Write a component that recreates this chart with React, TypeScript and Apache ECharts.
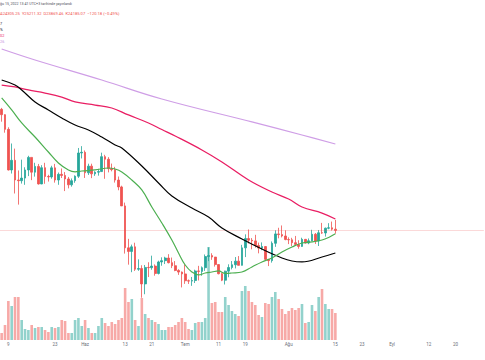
import React, { useEffect, useRef } from 'react';
import * as echarts from 'echarts';

const startDate = '2022-05-07';
const endDate = '2022-09-28';

// date, open, high, low, close
const candles: [string, number, number, number, number][] = [
  ['2022-05-07', 35991, 36130, 34785, 35468],
  ['2022-05-08', 35468, 35510, 33713, 34038],
  ['2022-05-09', 34038, 34243, 30033, 30076],
  ['2022-05-10', 30076, 32659, 29730, 31017],
  ['2022-05-11', 31017, 32162, 27785, 29103],
  ['2022-05-12', 29103, 30032, 26700, 29030],
  ['2022-05-13', 29030, 31083, 28751, 29287],
  ['2022-05-14', 29287, 30343, 28630, 30080],
  ['2022-05-15', 30080, 31460, 29480, 31305],
  ['2022-05-16', 31305, 31305, 29087, 29863],
  ['2022-05-17', 29863, 30780, 29430, 30425],
  ['2022-05-18', 30425, 30667, 28654, 28716],
  ['2022-05-19', 28716, 30545, 28693, 30297],
  ['2022-05-20', 30297, 30777, 28730, 29445],
  ['2022-05-21', 29445, 29610, 28947, 29400],
  ['2022-05-22', 29400, 30487, 29227, 30285],
  ['2022-05-23', 30285, 30670, 28843, 29099],
  ['2022-05-24', 29099, 29830, 28631, 29655],
  ['2022-05-25', 29655, 30223, 29294, 29542],
  ['2022-05-26', 29542, 29875, 28019, 29202],
  ['2022-05-27', 29202, 29400, 28282, 28630],
  ['2022-05-28', 28630, 29250, 28450, 29031],
  ['2022-05-29', 29031, 29550, 28830, 29468],
  ['2022-05-30', 29468, 32222, 29300, 31734],
  ['2022-05-31', 31734, 32400, 31200, 31802],
  ['2022-06-01', 31802, 31982, 29300, 29805],
  ['2022-06-02', 29805, 30690, 29594, 30452],
  ['2022-06-03', 30452, 30690, 29281, 29700],
  ['2022-06-04', 29700, 29950, 29500, 29865],
  ['2022-06-05', 29865, 30189, 29525, 29920],
  ['2022-06-06', 29920, 31765, 29880, 31373],
  ['2022-06-07', 31373, 31557, 29218, 31125],
  ['2022-06-08', 31125, 31330, 29843, 30204],
  ['2022-06-09', 30204, 30700, 29944, 30109],
  ['2022-06-10', 30109, 30382, 28850, 29091],
  ['2022-06-11', 29091, 29440, 28100, 28424],
  ['2022-06-12', 28424, 28544, 26560, 26575],
  ['2022-06-13', 26575, 26896, 21925, 22487],
  ['2022-06-14', 22487, 23363, 20846, 22136],
  ['2022-06-15', 22136, 22800, 20111, 22584],
  ['2022-06-16', 22584, 22984, 20232, 20401],
  ['2022-06-17', 20401, 21365, 20246, 20468],
  ['2022-06-18', 20468, 20787, 17622, 18970],
  ['2022-06-19', 18970, 20815, 17961, 20575],
  ['2022-06-20', 20575, 21080, 19637, 20555],
  ['2022-06-21', 20555, 21723, 20348, 20710],
  ['2022-06-22', 20710, 20872, 19770, 19988],
  ['2022-06-23', 19988, 21233, 19890, 21110],
  ['2022-06-24', 21110, 21558, 20740, 21237],
  ['2022-06-25', 21237, 21614, 20906, 21491],
  ['2022-06-26', 21491, 21868, 20970, 21038],
  ['2022-06-27', 21038, 21540, 20510, 20743],
  ['2022-06-28', 20743, 21194, 20208, 20281],
  ['2022-06-29', 20281, 20400, 19848, 20123],
  ['2022-06-30', 20123, 20179, 18626, 19942],
  ['2022-07-01', 19942, 20876, 18975, 19279],
  ['2022-07-02', 19279, 19400, 18966, 19243],
  ['2022-07-03', 19243, 19648, 18781, 19297],
  ['2022-07-04', 19297, 20354, 19055, 20231],
  ['2022-07-05', 20231, 20730, 19304, 20190],
  ['2022-07-06', 20190, 20675, 19762, 20548],
  ['2022-07-07', 20548, 21838, 20237, 21637],
  ['2022-07-08', 21637, 22527, 21190, 21731],
  ['2022-07-09', 21731, 21957, 21316, 21587],
  ['2022-07-10', 21587, 21600, 20655, 20854],
  ['2022-07-11', 20854, 20880, 19900, 19963],
  ['2022-07-12', 19963, 20060, 19240, 19329],
  ['2022-07-13', 19329, 20260, 18910, 20213],
  ['2022-07-14', 20213, 20880, 19617, 20569],
  ['2022-07-15', 20569, 21200, 20383, 20836],
  ['2022-07-16', 20836, 21588, 20478, 21190],
  ['2022-07-17', 21190, 21685, 20761, 20779],
  ['2022-07-18', 20779, 22777, 20763, 22485],
  ['2022-07-19', 22485, 23800, 21584, 23389],
  ['2022-07-20', 23389, 24276, 22906, 23231],
  ['2022-07-21', 23231, 23440, 22341, 23164],
  ['2022-07-22', 23164, 23757, 22500, 22714],
  ['2022-07-23', 22714, 22996, 21950, 22465],
  ['2022-07-24', 22465, 23014, 22257, 22609],
  ['2022-07-25', 22609, 22666, 21250, 21361],
  ['2022-07-26', 21361, 21361, 20706, 21239],
  ['2022-07-27', 21239, 23112, 21043, 22930],
  ['2022-07-28', 22930, 24199, 22582, 23843],
  ['2022-07-29', 23843, 24442, 23414, 23775],
  ['2022-07-30', 23775, 24668, 23502, 23643],
  ['2022-07-31', 23643, 24194, 23227, 23293],
  ['2022-08-01', 23293, 23509, 22850, 23269],
  ['2022-08-02', 23269, 23463, 22654, 22988],
  ['2022-08-03', 22988, 23647, 22681, 22819],
  ['2022-08-04', 22819, 23226, 22400, 22626],
  ['2022-08-05', 22626, 23472, 22586, 23312],
  ['2022-08-06', 23312, 23354, 22909, 22954],
  ['2022-08-07', 22954, 23400, 22841, 23175],
  ['2022-08-08', 23175, 24245, 23154, 23810],
  ['2022-08-09', 23810, 23933, 22865, 23149],
  ['2022-08-10', 23149, 24226, 22664, 23954],
  ['2022-08-11', 23954, 24918, 23852, 23934],
  ['2022-08-12', 23934, 24456, 23580, 24403],
  ['2022-08-13', 24403, 24890, 24296, 24441],
  ['2022-08-14', 24441, 25047, 24170, 24305],
  ['2022-08-15', 24305, 25211, 23869, 24185],
];

// volume (thousands), one per candle
const volumes: number[] = [
  7, 15, 39, 34, 43, 43, 20, 11, 10, 15, 12, 13, 13, 10, 8, 13, 12, 13, 20, 19,
  7, 7, 20, 22, 14, 20, 12, 7, 7, 14, 22, 17, 14, 18, 16, 20, 22, 52, 38, 41,
  20, 14, 42, 26, 22, 20, 18, 16, 10, 10, 13, 13, 15, 18, 22, 18, 11, 10, 17, 18,
  18, 22, 93, 37, 38, 28, 28, 43, 35, 29, 26, 24, 49, 54, 49, 38, 35, 25, 23, 37,
  36, 43, 48, 41, 31, 26, 29, 32, 30, 32, 36, 17, 18, 35, 29, 43, 51, 36, 31, 31,
  27,
];

const maGreen: [string, number][] = [
  ['2022-05-07', 37100], ['2022-05-10', 35930], ['2022-05-13', 34660], ['2022-05-17', 33290],
  ['2022-05-21', 31830], ['2022-05-24', 30760], ['2022-05-27', 30080], ['2022-05-29', 29900],
  ['2022-05-31', 29980], ['2022-06-04', 30080], ['2022-06-08', 30270], ['2022-06-10', 30170],
  ['2022-06-12', 29880], ['2022-06-15', 29100], ['2022-06-18', 28130], ['2022-06-21', 26470],
  ['2022-06-24', 24910], ['2022-06-27', 23250], ['2022-06-29', 21980], ['2022-07-01', 20810],
  ['2022-07-03', 20130], ['2022-07-05', 19840], ['2022-07-07', 20030], ['2022-07-09', 20130],
  ['2022-07-11', 20230], ['2022-07-13', 19990], ['2022-07-15', 20030], ['2022-07-18', 20130],
  ['2022-07-21', 20620], ['2022-07-24', 21110], ['2022-07-27', 21500], ['2022-07-30', 22080],
  ['2022-08-02', 22570], ['2022-08-05', 22960], ['2022-08-08', 23060], ['2022-08-11', 23250],
  ['2022-08-13', 23500], ['2022-08-15', 23850],
];

const maBlack: [string, number][] = [
  ['2022-05-07', 38850], ['2022-05-11', 38360], ['2022-05-13', 37880], ['2022-05-17', 36710],
  ['2022-05-21', 35930], ['2022-05-25', 35150], ['2022-05-29', 34460], ['2022-06-02', 33980],
  ['2022-06-06', 33290], ['2022-06-10', 32510], ['2022-06-12', 32220], ['2022-06-18', 30460],
  ['2022-06-23', 28810], ['2022-06-27', 27540], ['2022-07-03', 26370], ['2022-07-08', 25490],
  ['2022-07-12', 24420], ['2022-07-18', 23350], ['2022-07-24', 22370], ['2022-07-30', 21500],
  ['2022-08-02', 21200], ['2022-08-05', 21110], ['2022-08-11', 21590], ['2022-08-15', 21980],
];

const maRed: [string, number][] = [
  ['2022-05-07', 38360], ['2022-05-11', 38170], ['2022-05-15', 37880], ['2022-05-20', 37580],
  ['2022-05-25', 37190], ['2022-05-29', 36710], ['2022-06-04', 36410], ['2022-06-09', 36120],
  ['2022-06-14', 35440], ['2022-06-20', 34660], ['2022-06-24', 34020], ['2022-06-28', 33390],
  ['2022-07-06', 32030], ['2022-07-12', 30860], ['2022-07-20', 29100], ['2022-07-27', 27930],
  ['2022-08-01', 27250], ['2022-08-05', 26470], ['2022-08-11', 25880], ['2022-08-15', 25300],
];

const maPurple: [string, number][] = [
  ['2022-05-07', 41870], ['2022-05-17', 40800], ['2022-06-06', 38850], ['2022-06-24', 37000],
  ['2022-07-21', 34760], ['2022-08-05', 33490], ['2022-08-15', 32610],
];

const tickDates = [
  '2022-05-09', '2022-05-23', '2022-06-01', '2022-06-13', '2022-06-21', '2022-07-01', '2022-07-11',
  '2022-07-19', '2022-08-01', '2022-08-15', '2022-08-23', '2022-09-01', '2022-09-12', '2022-09-20',
];
const monthNames = ['Oca', 'Şub', 'Mar', 'Nis', 'May', 'Haz', 'Tem', 'Ağu', 'Eyl', 'Eki', 'Kas', 'Ara'];

const headerLine1 = 'ğu 15, 2022 13:41 UTC+3 tarihinde yayınlandı';
const headerLine2 = 'A24305.25  Y25211.32  D23869.46  K24185.07  −120.18 (−0.49%)';
const legendTails = [
  { text: '7', color: '#2a2e39' },
  { text: '%', color: '#2a2e39' },
  { text: '02', color: '#e91e63' },
  { text: '26', color: '#c58fe0' },
];

const UP = '#26a69a';
const DOWN = '#ef5350';

function buildDates(a: string, b: string): string[] {
  const out: string[] = [];
  const d = new Date(a + 'T00:00:00Z');
  const end = new Date(b + 'T00:00:00Z');
  while (d.getTime() <= end.getTime()) {
    out.push(d.toISOString().slice(0, 10));
    d.setUTCDate(d.getUTCDate() + 1);
  }
  return out;
}

export default function App() {
  const ref = useRef<HTMLDivElement>(null);
  useEffect(() => {
    if (!ref.current) return;
    const chart = echarts.init(ref.current, undefined, { renderer: 'svg' });
    const dates = buildDates(startDate, endDate);
    // candles start at the first category
    const candleData = candles.map((c) => [c[1], c[4], c[3], c[2]]);
    const volData = candles.map((c, i) => ({
      value: volumes[i],
      itemStyle: { color: c[4] >= c[1] ? 'rgba(38,166,154,0.5)' : 'rgba(239,83,80,0.5)' },
    }));
    const last = candles[candles.length - 1];
    const font = 'Roboto, Arial, sans-serif';
    const gridX = { left: -1.9, width: 485.75 };
    const lineS = (name: string, data: [string, number][], color: string, w = 1.2) => ({
      name,
      type: 'line',
      data,
      xAxisIndex: 0,
      yAxisIndex: 0,
      smooth: 0.4,
      showSymbol: false,
      symbol: 'none',
      lineStyle: { color, width: w },
      z: 5,
      silent: true,
    });
    chart.setOption({
      animation: false,
      backgroundColor: '#ffffff',
      grid: [
        { ...gridX, top: 0, height: 340 },
        { ...gridX, top: 240, height: 100 },
      ],
      xAxis: [
        {
          type: 'category', gridIndex: 0, data: dates, boundaryGap: true,
          axisLine: { show: false }, axisTick: { show: false }, axisLabel: { show: false },
          splitLine: { show: false },
        },
        {
          type: 'category', gridIndex: 1, data: dates, boundaryGap: true,
          axisLine: { show: false }, axisTick: { show: false }, splitLine: { show: false },
          axisLabel: {
            show: true,
            margin: 2,
            fontSize: 4.5,
            color: '#6a6d78',
            fontFamily: font,
            interval: (_i: number, v: string) => tickDates.includes(v),
            formatter: (v: string) => {
              const m = Number(v.slice(5, 7));
              const d = Number(v.slice(8, 10));
              return d === 1 ? monthNames[m - 1] : String(d);
            },
          },
        },
      ],
      yAxis: [
        { type: 'value', gridIndex: 0, min: 13500, max: 46650, show: false, splitLine: { show: false } },
        { type: 'value', gridIndex: 1, min: 0, max: 100, show: false, splitLine: { show: false } },
      ],
      series: [
        {
          name: 'Hacim', type: 'bar', xAxisIndex: 1, yAxisIndex: 1, data: volData,
          barWidth: 2.6, z: 1, silent: true,
        },
        {
          name: 'BTCUSDT', type: 'candlestick', xAxisIndex: 0, yAxisIndex: 0, data: candleData,
          barWidth: 2.2, z: 3, silent: true,
          itemStyle: { color: UP, color0: DOWN, borderColor: UP, borderColor0: DOWN, borderWidth: 0.8 },
          markLine: {
            silent: true, symbol: ['none', 'none'], animation: false,
            label: { show: false },
            lineStyle: { color: 'rgba(239,83,80,0.28)', width: 0.8, type: 'solid' },
            data: [{ yAxis: last[4] }],
          },
        },
        lineS('MA200', maPurple, '#cf9ee6'),
        lineS('MA100', maRed, '#e91e63', 1.3),
        lineS('MA50', maBlack, '#000000', 1.2),
        lineS('MA20', maGreen, '#4caf50', 1.2),
      ],
      graphic: [
        { type: 'text', left: 0, top: 2, style: { text: headerLine1, fill: '#4a4e59', fontSize: 3.6, fontFamily: font } },
        { type: 'text', left: 0, top: 11, style: { text: headerLine2, fill: DOWN, fontSize: 4.1, fontFamily: font } },
        ...legendTails.map((l, i) => ({
          type: 'text', left: 0, top: 21 + i * 6,
          style: { text: l.text, fill: l.color, fontSize: 3.8, fontFamily: font },
        })),
      ],
    });
    return () => chart.dispose();
  }, []);
  return <div ref={ref} style={{ width: 485, height: 360, position: 'absolute', left: 0, top: 0 }} />;
}
